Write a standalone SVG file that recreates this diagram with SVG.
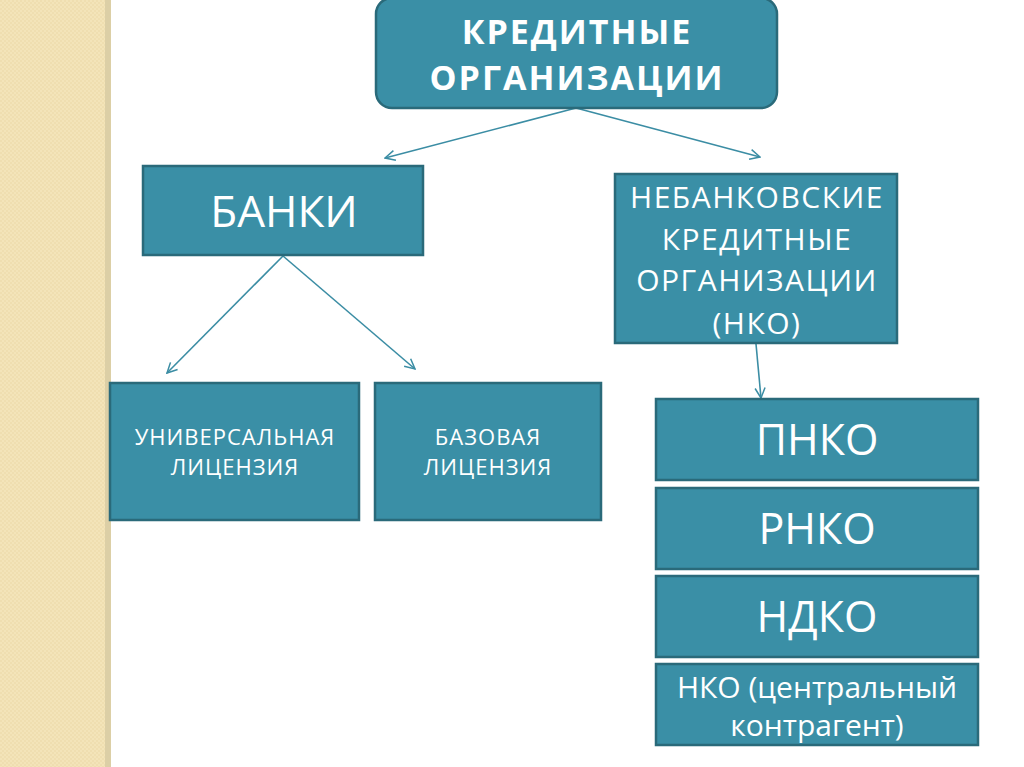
<svg xmlns="http://www.w3.org/2000/svg" width="1024" height="767" viewBox="0 0 1024 767">
<defs>
<pattern id="chk" width="4" height="4" patternUnits="userSpaceOnUse">
<rect width="4" height="4" fill="#f3e4b9"/>
<rect width="2" height="2" fill="#efdeb0"/>
<rect x="2" y="2" width="2" height="2" fill="#efdeb0"/>
</pattern>
<marker id="arr" viewBox="0 0 12 12" refX="11" refY="6" markerWidth="12" markerHeight="12" markerUnits="userSpaceOnUse" orient="auto">
<path d="M1,1 L11,6 L1,11" fill="none" stroke="#3b8da4" stroke-width="1.5"/>
</marker>
</defs>
<style>
.box{fill:#3a8fa6;stroke:#2a6a7a;stroke-width:2.5}
.t{font-family:"Open Sans","Liberation Sans",sans-serif;fill:#ffffff;text-anchor:middle}
.c{fill:none;stroke:#3b8da4;stroke-width:1.6;marker-end:url(#arr)}
</style>
<rect width="1024" height="767" fill="#ffffff"/>
<rect x="0" y="0" width="107" height="767" fill="url(#chk)"/>
<rect x="105" y="0" width="6" height="767" fill="#dccfa6"/>
<g id="connectors">
<line class="c" x1="576" y1="108" x2="385" y2="158"/>
<line class="c" x1="576" y1="108" x2="760" y2="157"/>
<line class="c" x1="283" y1="256" x2="167" y2="373"/>
<line class="c" x1="283" y1="256" x2="415" y2="369"/>
<line class="c" x1="756" y1="344" x2="761" y2="398"/>
</g>
<g id="n-kredit">
<rect class="box" x="376" y="-2" width="401" height="110" rx="16"/>
<text class="t" x="577" y="44" font-size="34" font-weight="bold" letter-spacing="2">КРЕДИТНЫЕ</text>
<text class="t" x="577" y="90" font-size="34" font-weight="bold" letter-spacing="2">ОРГАНИЗАЦИИ</text>
</g>
<g id="n-banki">
<rect class="box" x="143" y="166" width="280" height="89"/>
<text class="t" x="284" y="227" font-size="44">БАНКИ</text>
</g>
<g id="n-nko">
<rect class="box" x="615" y="174" width="282" height="169"/>
<text class="t" x="757" y="208" font-size="30" letter-spacing="1.5">НЕБАНКОВСКИЕ</text>
<text class="t" x="757" y="250" font-size="30" letter-spacing="1.5">КРЕДИТНЫЕ</text>
<text class="t" x="757" y="291" font-size="30" letter-spacing="1.5">ОРГАНИЗАЦИИ</text>
<text class="t" x="757" y="334" font-size="30" letter-spacing="1.5">(НКО)</text>
</g>
<g id="n-univ">
<rect class="box" x="110" y="383" width="249" height="137"/>
<text class="t" x="235" y="445" font-size="22" letter-spacing="1">УНИВЕРСАЛЬНАЯ</text>
<text class="t" x="235" y="475" font-size="22" letter-spacing="1">ЛИЦЕНЗИЯ</text>
</g>
<g id="n-baz">
<rect class="box" x="375" y="383" width="226" height="137"/>
<text class="t" x="488" y="445" font-size="22" letter-spacing="1">БАЗОВАЯ</text>
<text class="t" x="488" y="475" font-size="22" letter-spacing="1">ЛИЦЕНЗИЯ</text>
</g>
<g id="n-pnko">
<rect class="box" x="656" y="399" width="322" height="81"/>
<text class="t" x="817" y="455" font-size="43">ПНКО</text>
</g>
<g id="n-rnko">
<rect class="box" x="656" y="488" width="322" height="81"/>
<text class="t" x="817" y="544" font-size="43">РНКО</text>
</g>
<g id="n-ndko">
<rect class="box" x="656" y="576" width="322" height="81"/>
<text class="t" x="817" y="632" font-size="43">НДКО</text>
</g>
<g id="n-cc">
<rect class="box" x="656" y="664" width="322" height="81"/>
<text class="t" x="817" y="698" font-size="30">НКО (центральный</text>
<text class="t" x="817" y="736" font-size="30">контрагент)</text>
</g>
</svg>
